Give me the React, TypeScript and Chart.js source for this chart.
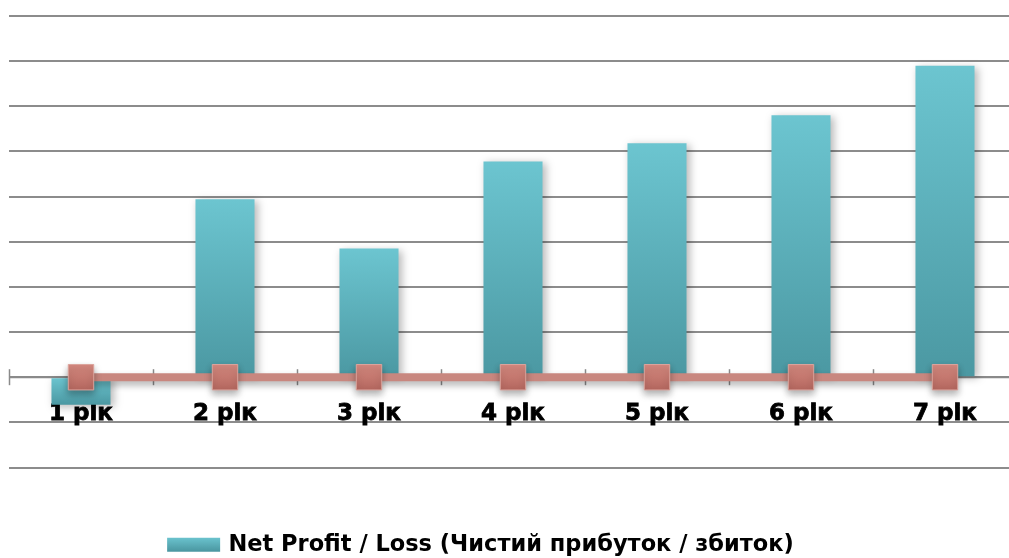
import React, { useEffect, useRef } from "react";
import { Chart, registerables } from "chart.js";

Chart.register(...registerables);

const categories = ["1 рік", "2 рік", "3 рік", "4 рік", "5 рік", "6 рік", "7 рік"];
const netProfit = [-61, 394, 285, 478, 518, 580, 690];
const zeroLine = [0, 0, 0, 0, 0, 0, 0];
const yMin = -200;
const yMax = 800;
const yStep = 100;
const legendText = "Net Profit / Loss (Чистий прибуток / збиток)";

const FONT = "'DejaVu Sans', Verdana, sans-serif";

export default function App() {
  const ref = useRef<HTMLCanvasElement | null>(null);

  useEffect(() => {
    const canvas = ref.current;
    if (!canvas) return;

    const shadowPlugin = {
      id: "barShadow",
      beforeDatasetDraw(chart: any, args: any) {
        const c = chart.ctx;
        c.save();
        if (args.index === 0) {
          c.shadowColor = "rgba(0,0,0,0.28)";
          c.shadowBlur = 8;
          c.shadowOffsetX = 3;
          c.shadowOffsetY = 2;
        } else {
          c.shadowColor = "rgba(0,0,0,0.3)";
          c.shadowBlur = 7;
          c.shadowOffsetX = 0;
          c.shadowOffsetY = 4;
        }
      },
      afterDatasetDraw(chart: any) {
        chart.ctx.restore();
      },
    };

    const axisTicksPlugin = {
      id: "axisTicks",
      beforeDatasetsDraw(chart: any) {
        const xs = chart.scales.x;
        const ys = chart.scales.y;
        const c = chart.ctx;
        const y0 = ys.getPixelForValue(0);
        c.save();
        c.strokeStyle = "#8a8a8a";
        c.lineWidth = 2;
        c.beginPath();
        c.moveTo(chart.chartArea.left, y0);
        c.lineTo(chart.chartArea.right, y0);
        c.stroke();
        c.lineWidth = 1.5;
        for (let i = 0; i <= categories.length; i++) {
          const px = Math.round(xs.getPixelForValue(i - 0.5)) + 0.5;
          c.beginPath();
          c.moveTo(px, y0 - 8);
          c.lineTo(px, y0 + 8);
          c.stroke();
        }
        c.restore();
      },
    };

    const barFill = (ctx: any) => {
      const ch = ctx.chart;
      const ys = ch.scales && ch.scales.y;
      if (!ys || ctx.type !== "data") return "#5fb5c0";
      const v = ctx.raw as number;
      const p0 = ys.getPixelForValue(0);
      const p1 = ys.getPixelForValue(v);
      const top = Math.min(p0, p1);
      const bottom = Math.max(p0, p1);
      if (!isFinite(top) || !isFinite(bottom) || bottom - top < 1) return "#5fb5c0";
      const g = ch.ctx.createLinearGradient(0, top, 0, bottom);
      g.addColorStop(0, "#6cc5d0");
      g.addColorStop(1, "#4b98a2");
      return g;
    };

    const pointFill = (ctx: any) => {
      const ch = ctx.chart;
      const ys = ch.scales && ch.scales.y;
      if (!ys) return "#c97a71";
      const p0 = ys.getPixelForValue(0);
      if (!isFinite(p0)) return "#c97a71";
      const g = ch.ctx.createLinearGradient(0, p0 - 13, 0, p0 + 13);
      g.addColorStop(0, "#d68a80");
      g.addColorStop(1, "#b3665e");
      return g;
    };

    const chart = new Chart(canvas, {
      type: "bar",
      data: {
        labels: categories,
        datasets: [
          {
            type: "bar",
            label: legendText,
            data: netProfit,
            order: 1,
            barPercentage: 0.41,
            categoryPercentage: 1,
            borderWidth: 0,
            backgroundColor: barFill,
          } as any,
          {
            type: "line",
            label: "zero",
            data: zeroLine,
            order: 0,
            borderColor: "#c8877f",
            borderWidth: 8,
            pointStyle: "rect",
            pointRadius: 18,
            pointHoverRadius: 18,
            pointBorderColor: "#dca49d",
            pointBorderWidth: 1,
            pointBackgroundColor: pointFill,
          } as any,
        ],
      },
      options: {
        responsive: false,
        animation: false,
        devicePixelRatio: 1,
        layout: { autoPadding: false, padding: { top: 16, right: 0, left: 0, bottom: 0 } } as any,
        scales: {
          x: {
            type: "category",
            position: { y: 0 } as any,
            offset: true,
            grid: {
              display: true,
              drawOnChartArea: false,
              drawTicks: true,
              tickLength: 23,
              color: "rgba(0,0,0,0)",
            },
            border: { display: false },
            ticks: {
              color: "#000000",
              padding: 0,
              maxRotation: 0,
              autoSkip: false,
              textStrokeColor: "#000000",
              textStrokeWidth: 0.8,
              font: { family: FONT, size: 23, weight: "bold" },
            },
          },
          x2: {
            type: "linear",
            axis: "x",
            position: "bottom",
            display: true,
            grid: { display: false, drawTicks: false },
            border: { display: false },
            ticks: { display: false },
            afterFit: (s: any) => {
              s.height = 56;
            },
          } as any,
          y: {
            type: "linear",
            min: yMin,
            max: yMax,
            ticks: { display: false, stepSize: yStep },
            grid: { color: "#8c8c8c", lineWidth: 2, drawTicks: false },
            border: { display: false },
            afterFit: (s: any) => {
              s.width = 62;
            },
          },
        },
        plugins: {
          tooltip: { enabled: false },
          legend: {
            display: true,
            position: "bottom",
            align: "center",
            labels: {
              color: "#000000",
              boxWidth: 47,
              boxHeight: 8,
              padding: 10,
              font: { family: FONT, size: 22.5, weight: "bold" },
              generateLabels: (ch: any) => {
                const g = ch.ctx.createLinearGradient(0, 537, 0, 551);
                g.addColorStop(0, "#6cc5d0");
                g.addColorStop(1, "#4b98a2");
                return [
                  {
                    text: legendText,
                    fillStyle: g,
                    strokeStyle: g,
                    lineWidth: 6,
                    lineJoin: "miter",
                    hidden: false,
                    datasetIndex: 0,
                    fontColor: "#000000",
                  },
                ];
              },
            },
          },
        },
      },
      plugins: [axisTicksPlugin, shadowPlugin],
    });

    return () => chart.destroy();
  }, []);

  return (
    <div
      style={{
        position: "absolute",
        left: 0,
        top: 0,
        width: 1009,
        height: 558,
        overflow: "hidden",
        background: "#ffffff",
      }}
    >
      <canvas
        ref={ref}
        width={1070}
        height={566}
        style={{ position: "absolute", left: -53, top: 0, width: 1070, height: 566 }}
      />
    </div>
  );
}
